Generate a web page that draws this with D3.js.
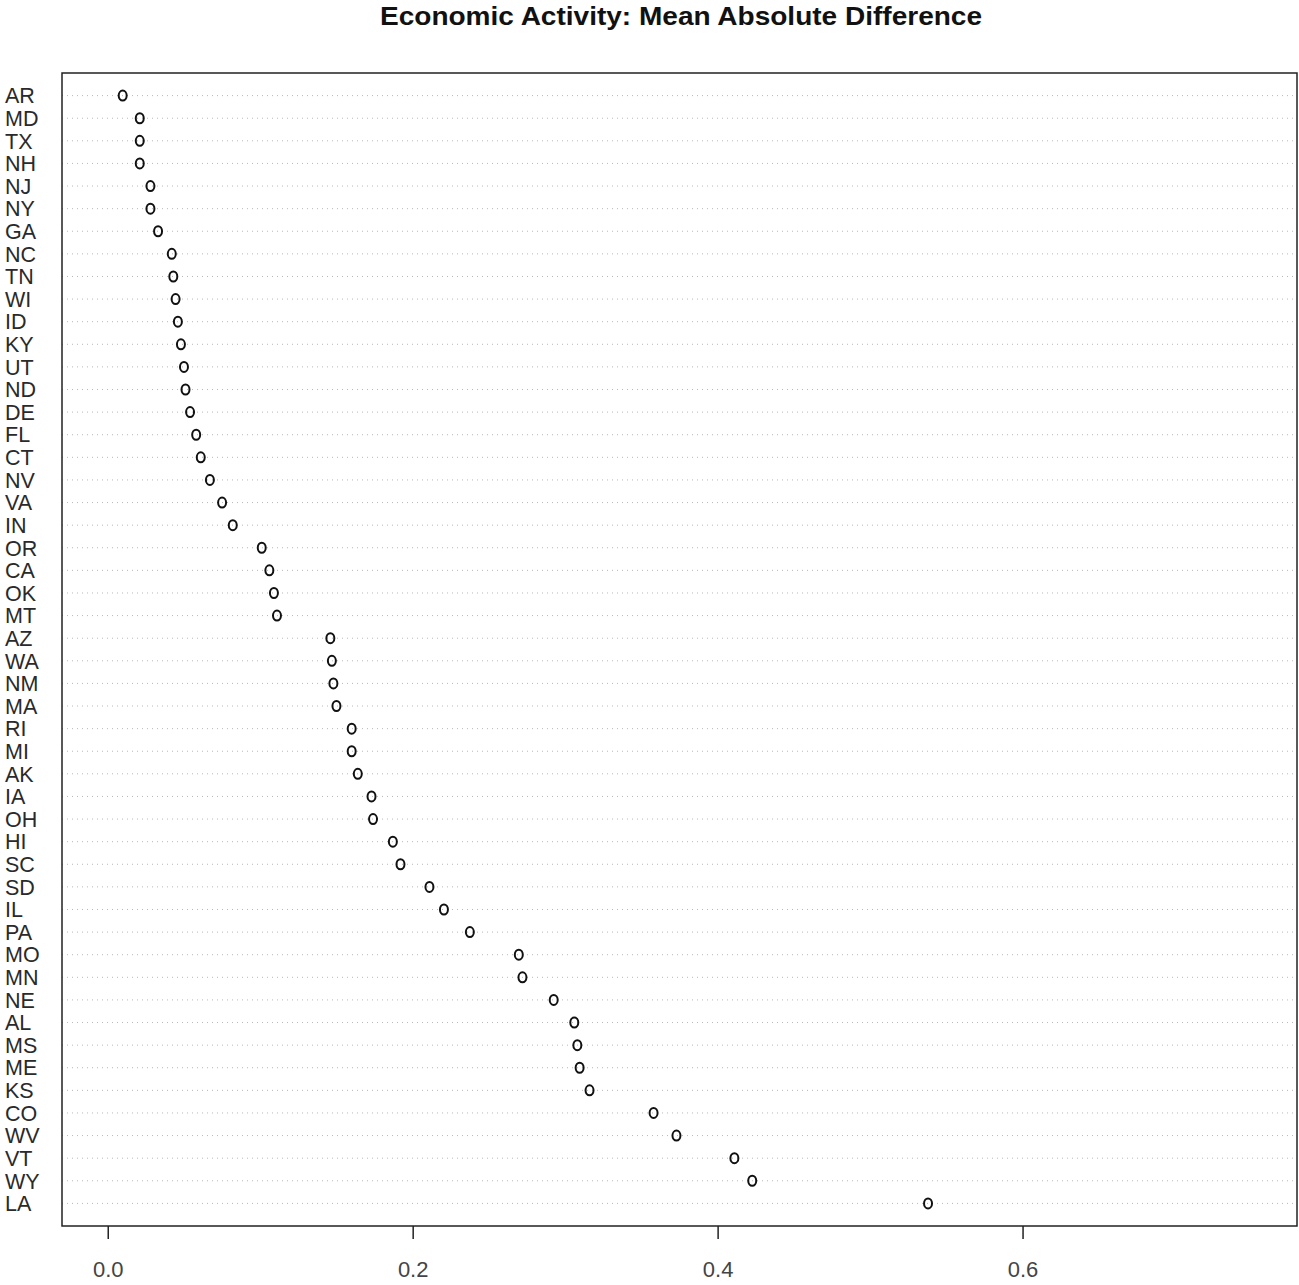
<!DOCTYPE html>
<html>
<head>
<meta charset="utf-8">
<script src="https://cdn.jsdelivr.net/npm/d3@7"></script>
<style>
  html, body { margin: 0; padding: 0; background: #fff; }
  svg { display: block; }
  text { font-family: "Liberation Sans", Arial, sans-serif; }
</style>
</head>
<body>
<svg id="chart" width="1299" height="1285"></svg>
<script>
// States, ordered top to bottom
const states = ["AR","MD","TX","NH","NJ","NY","GA","NC","TN","WI","ID","KY","UT","ND","DE","FL","CT","NV","VA","IN",
  "OR","CA","OK","MT","AZ","WA","NM","MA","RI","MI","AK","IA","OH","HI","SC","SD","IL","PA","MO","MN",
  "NE","AL","MS","ME","KS","CO","WV","VT","WY","LA"];

// Mean absolute difference per state
const madValues = [0.0098,0.021,0.021,0.021,0.028,0.028,0.033,0.042,0.043,0.0445,0.046,0.048,0.050,0.051,0.054,0.058,0.061,0.067,0.075,0.082,
  0.101,0.106,0.109,0.111,0.146,0.147,0.148,0.150,0.160,0.160,0.164,0.173,0.174,0.187,0.192,0.211,0.2205,0.2375,0.2696,0.272,
  0.2925,0.306,0.308,0.3095,0.316,0.358,0.373,0.411,0.4227,0.538];

const xTicks = [0.0, 0.2, 0.4, 0.6];

const svg = d3.select("#chart");
const box = { left: 62, right: 1297, top: 73, bottom: 1226 };

const x = d3.scaleLinear().domain([-0.03, 0.78]).range([box.left, box.right]);
// row index 1..n from bottom, domain [0, n+1]
const n = states.length;
const y = d3.scaleLinear().domain([0, n + 1]).range([box.bottom, box.top]);
const rowY = i => y(n - i);

// title
svg.append("text")
  .attr("x", 380).attr("y", 25)
  .attr("font-size", 25).attr("font-weight", "bold")
  .attr("textLength", 602).attr("lengthAdjust", "spacingAndGlyphs")
  .attr("fill", "#111")
  .text("Economic Activity: Mean Absolute Difference");

// dotted guide lines
svg.append("g").selectAll("line").data(states).join("line")
  .attr("x1", box.left).attr("x2", box.right)
  .attr("y1", (d, i) => rowY(i)).attr("y2", (d, i) => rowY(i))
  .attr("stroke", "#b8b8b8").attr("stroke-width", 1)
  .attr("stroke-dasharray", "1,4");

// state labels
svg.append("g").selectAll("text").data(states).join("text")
  .attr("x", 5).attr("y", (d, i) => rowY(i))
  .attr("dy", "0.36em")
  .attr("font-size", 21.5).attr("fill", "#2a2a2a")
  .text(d => d);

// points
svg.append("g").selectAll("ellipse").data(madValues).join("ellipse")
  .attr("cx", d => x(d)).attr("cy", (d, i) => rowY(i))
  .attr("rx", 4).attr("ry", 5)
  .attr("fill", "none").attr("stroke", "#111").attr("stroke-width", 2);

// plot frame
svg.append("rect")
  .attr("x", box.left).attr("y", box.top)
  .attr("width", box.right - box.left).attr("height", box.bottom - box.top)
  .attr("fill", "none").attr("stroke", "#222").attr("stroke-width", 1.5);

// bottom axis
const axis = d3.axisBottom(x).tickValues(xTicks).tickFormat(d3.format(".1f")).tickSize(13).tickPadding(22);
const ax = svg.append("g").attr("transform", `translate(0,${box.bottom})`).call(axis);
ax.select(".domain").remove();
ax.selectAll(".tick line").attr("stroke", "#222").attr("stroke-width", 1.5);
ax.selectAll(".tick text").attr("font-size", 22).attr("fill", "#444")
  .attr("font-family", "'Liberation Sans', Arial, sans-serif");
</script>
</body>
</html>
